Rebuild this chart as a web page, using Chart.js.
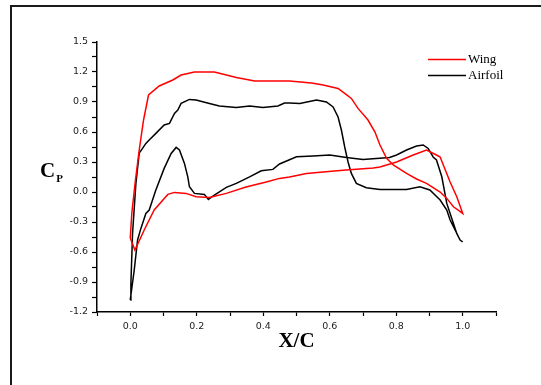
<!DOCTYPE html>
<html>
<head>
<meta charset="utf-8">
<script src="https://cdn.jsdelivr.net/npm/chart.js@4/dist/chart.umd.min.js"></script>
<style>
  html, body { margin: 0; padding: 0; background: #fff; }
  #wrap { position: relative; width: 541px; height: 385px; overflow: hidden; }
  #frame { position: absolute; left: 10px; top: 5px; width: 600px; height: 400px;
           border-top: 2px solid #1a1a1a; border-left: 2px solid #1a1a1a; }
  canvas { position: absolute; left: 0; top: 0; }
</style>
</head>
<body>
<div id="wrap">
  <div id="frame"></div>
  <canvas id="c" width="541" height="385"></canvas>
</div>
<script>
// ---- data ----
const seriesNames = ["Wing", "Airfoil"];

const wingX = [0, 0.005, 0.015, 0.027, 0.040, 0.055, 0.087, 0.128, 0.153, 0.193, 0.253, 0.289, 0.319, 0.374, 0.479, 0.545, 0.580, 0.625, 0.645, 0.665, 0.685, 0.715, 0.736, 0.751, 0.771, 0.791, 0.831, 0.861, 0.891, 0.932, 0.952, 0.972, 1.000,
  0.982, 0.962, 0.932, 0.921, 0.891, 0.851, 0.801, 0.751, 0.731, 0.649, 0.580, 0.530, 0.479, 0.449, 0.409, 0.348, 0.289, 0.238, 0.198, 0.168, 0.133, 0.113, 0.072, 0.042, 0.014, 0];
const wingCp = [-0.46, -0.20, 0.10, 0.42, 0.72, 0.97, 1.06, 1.12, 1.17, 1.20, 1.20, 1.17, 1.146, 1.11, 1.11, 1.09, 1.07, 1.036, 0.986, 0.936, 0.836, 0.72, 0.60, 0.47, 0.336, 0.27, 0.186, 0.13, 0.086, 0.0, -0.064, -0.148, -0.214,
  -0.048, 0.10, 0.35, 0.37, 0.42, 0.37, 0.30, 0.25, 0.24, 0.22, 0.20, 0.186, 0.15, 0.136, 0.10, 0.05, -0.014, -0.054, -0.048, -0.014, -0.004, -0.024, -0.18, -0.38, -0.58, -0.46];

const airfoilX = [0, 0.002, 0.007, 0.017, 0.027, 0.037, 0.047, 0.057, 0.077, 0.102, 0.118, 0.133, 0.143, 0.153, 0.178, 0.198, 0.238, 0.268, 0.319, 0.359, 0.399, 0.444, 0.464, 0.479, 0.510, 0.560, 0.590, 0.610, 0.625, 0.635, 0.645, 0.655, 0.665, 0.680, 0.710, 0.751, 0.831, 0.871, 0.901, 0.932, 0.952, 0.962, 0.977, 0.992, 1.000,
  0.992, 0.982, 0.962, 0.952, 0.937, 0.921, 0.911, 0.896, 0.881, 0.861, 0.831, 0.801, 0.780, 0.700, 0.650, 0.600, 0.550, 0.500, 0.449, 0.429, 0.394, 0.359, 0.319, 0.289, 0.253, 0.235, 0.223, 0.193, 0.178, 0.173, 0.163, 0.148, 0.138, 0.123, 0.102, 0.077, 0.057, 0.047, 0.032, 0.022, 0.012, 0];
const airfoilCp = [-1.08, -0.91, -0.41, 0.086, 0.39, 0.436, 0.486, 0.52, 0.586, 0.67, 0.686, 0.786, 0.82, 0.886, 0.926, 0.92, 0.886, 0.86, 0.846, 0.86, 0.846, 0.86, 0.89, 0.89, 0.886, 0.92, 0.90, 0.85, 0.75, 0.62, 0.45, 0.30, 0.186, 0.086, 0.043, 0.026, 0.026, 0.052, 0.02, -0.08, -0.18, -0.28, -0.38, -0.48, -0.50,
  -0.48, -0.414, -0.214, -0.114, 0.152, 0.32, 0.35, 0.436, 0.47, 0.46, 0.42, 0.37, 0.346, 0.326, 0.346, 0.37, 0.36, 0.352, 0.28, 0.226, 0.212, 0.152, 0.086, 0.046, -0.03, -0.074, -0.024, -0.014, 0.052, 0.152, 0.286, 0.42, 0.446, 0.386, 0.236, 0.02, -0.18, -0.214, -0.364, -0.48, -0.78, -1.08];

const xAxisTitle = "X/C";
const yAxisTitle = "C";
const yAxisSub = "P";
const xTickLabels = ["0.0", "0.2", "0.4", "0.6", "0.8", "1.0"];
const yTickLabels = ["-1.2", "-0.9", "-0.6", "-0.3", "0.0", "0.3", "0.6", "0.9", "1.2", "1.5"];

const toPts = (xs, ys) => xs.map((x, i) => ({ x: x, y: ys[i] }));

const titlesAndLegend = {
  id: 'titlesAndLegend',
  afterDraw(chart) {
    const ctx = chart.ctx;
    const area = chart.chartArea;
    ctx.save();
    ctx.fillStyle = '#000';
    // x title
    ctx.font = 'bold 21px "Liberation Serif"';
    ctx.textAlign = 'center';
    ctx.textBaseline = 'middle';
    ctx.fillText(xAxisTitle, (area.left + area.right) / 2, 342);
    // y title with subscript
    ctx.textAlign = 'left';
    ctx.textBaseline = 'alphabetic';
    ctx.font = 'bold 21px "Liberation Serif"';
    ctx.fillText(yAxisTitle, 40, 177);
    const cw = ctx.measureText(yAxisTitle).width;
    ctx.font = 'bold 11px "Liberation Serif"';
    ctx.fillText(yAxisSub, 40 + cw + 1, 182);
    // legend
    const x0 = 428, x1 = 466;
    const ys = [59.5, 75.5];
    chart.data.datasets.forEach((ds, i) => {
      ctx.strokeStyle = ds.borderColor;
      ctx.lineWidth = 1.5;
      ctx.beginPath();
      ctx.moveTo(x0, ys[i]);
      ctx.lineTo(x1, ys[i]);
      ctx.stroke();
      ctx.fillStyle = '#000';
      ctx.font = '13px "Liberation Serif"';
      ctx.textAlign = 'left';
      ctx.textBaseline = 'middle';
      ctx.fillText(ds.label, x1 + 2, ys[i] + 0.5);
    });
    ctx.restore();
  }
};

new Chart(document.getElementById('c'), {
  type: 'scatter',
  data: {
    datasets: [
      { label: seriesNames[0], data: toPts(wingX, wingCp), showLine: true, borderColor: '#ff0000', borderWidth: 1.5, pointRadius: 0, tension: 0, fill: false },
      { label: seriesNames[1], data: toPts(airfoilX, airfoilCp), showLine: true, borderColor: '#000000', borderWidth: 1.5, pointRadius: 0, tension: 0, fill: false }
    ]
  },
  options: {
    responsive: false,
    animation: false,
    devicePixelRatio: 1,
    layout: { padding: { left: 0, right: 45, top: 42, bottom: 0 } },
    plugins: { legend: { display: false }, tooltip: { enabled: false } },
    scales: {
      x: {
        type: 'linear', min: -0.1, max: 1.1,
        afterFit(s) { s.height = 73; },
        border: { display: true, color: '#000', width: 1.5 },
        grid: { drawOnChartArea: false, drawTicks: true, tickLength: 4, tickColor: '#000', tickWidth: 1.2 },
        ticks: {
          stepSize: 0.1, padding: 5, color: '#222', maxRotation: 0, autoSkip: false,
          font: { family: '"DejaVu Sans"', size: 9.5 },
          callback(v) {
            const n = Math.round(v * 10);
            if (n % 2 !== 0 || n < 0 || n > 10) return '';
            return xTickLabels[n / 2];
          }
        }
      },
      y: {
        type: 'linear', min: -1.2, max: 1.5,
        afterFit(s) { s.width = 97; },
        border: { display: true, color: '#000', width: 1.5 },
        grid: { drawOnChartArea: false, drawTicks: true, tickLength: 5, tickColor: '#000', tickWidth: 1.2 },
        ticks: {
          stepSize: 0.15, padding: 4, color: '#222', autoSkip: false,
          font: { family: '"DejaVu Sans"', size: 9.5 },
          callback(v) {
            const n = Math.round((v + 1.2) / 0.15);
            if (n % 2 !== 0) return '';
            return yTickLabels[n / 2];
          }
        }
      }
    }
  },
  plugins: [titlesAndLegend]
});
</script>
</body>
</html>
